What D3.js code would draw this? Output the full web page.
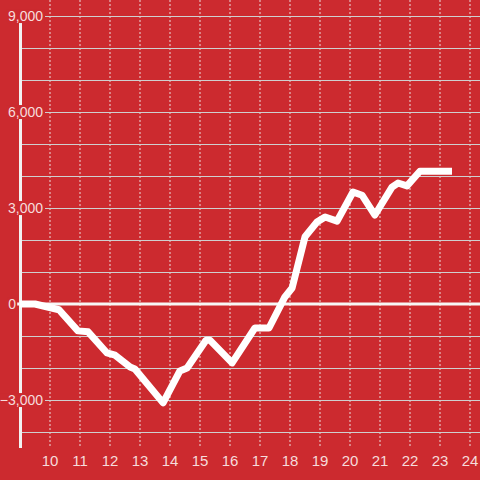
<!DOCTYPE html>
<html><head><meta charset="utf-8">
<script src="https://cdn.jsdelivr.net/npm/d3@7"></script>
<style>body{margin:0;background:#cc2a2f;}svg{display:block;}</style>
</head><body>
<svg id="c" width="480" height="480"></svg>
<script>
const hours = [9.0, 9.5, 10.3, 10.93, 11.27, 11.9, 12.17, 12.67, 12.83, 13.77, 14.33, 14.57, 15.2, 15.33, 16.07, 16.83, 17.3, 17.83, 18.07, 18.5, 18.9, 19.17, 19.57, 20.1, 20.4, 20.83, 21.4, 21.6, 21.9, 22.33, 23.4];
const values = [0, 0, -180, -840, -870, -1530, -1600, -1970, -2030, -3090, -2090, -2000, -1130, -1130, -1840, -750, -750, 220, 500, 2100, 2560, 2720, 2590, 3500, 3400, 2780, 3650, 3780, 3690, 4150, 4150];
const xTicks = [10,11,12,13,14,15,16,17,18,19,20,21,22,23,24];
const yGrid = [9000,8000,7000,6000,5000,4000,3000,2000,1000,0,-1000,-2000,-3000,-4000];
const yLabels = [9000,6000,3000,0,-3000];

const bg = "#cc2a2f";
const W = 480, H = 480;
const svg = d3.select("#c");
svg.append("rect").attr("width",W).attr("height",H).attr("fill",bg);

const x = d3.scaleLinear().domain([9, 24.3333]).range([20, 480]);
const y = d3.scaleLinear().domain([9500, -4500]).range([0, 448]);
const fmt = d3.format(",");

// vertical dotted gridlines
svg.append("g").selectAll("line").data(xTicks).join("line")
  .attr("x1", d=>x(d)).attr("x2", d=>x(d)).attr("y1",0).attr("y2",448)
  .attr("stroke","#ecdcdc").attr("stroke-width",1).attr("stroke-dasharray","2,2");

// horizontal gridlines
svg.append("g").selectAll("line").data(yGrid.filter(d=>d!==0)).join("line")
  .attr("x1", d=> yLabels.includes(d) ? 45 : 21).attr("x2", W)
  .attr("y1", d=>y(d)+0.5).attr("y2", d=>y(d)+0.5)
  .attr("stroke","#cfcfcf").attr("stroke-width",1);

// y axis line
svg.append("line").attr("x1",20.5).attr("x2",20.5).attr("y1",y(9000)).attr("y2",448)
  .attr("stroke","#f2f2f2").attr("stroke-width",3);

// zero line
svg.append("line").attr("x1",17).attr("x2",W).attr("y1",y(0)).attr("y2",y(0))
  .attr("stroke","#f7f7f7").attr("stroke-width",3);

// y labels with background
const yl = svg.append("g").selectAll("g").data(yLabels).join("g");
yl.append("rect");
yl.append("text")
  .attr("x", d=> d===0 ? 16 : 43)
  .attr("y", d=>y(d))
  .attr("dy","0.36em")
  .attr("text-anchor","end")
  .attr("font-family","'Liberation Sans', Arial, sans-serif")
  .attr("font-size",14)
  .attr("fill","#f6dcdc")
  .text(d=>fmt(d));
yl.each(function(){
  const t = d3.select(this).select("text").node().getBBox();
  d3.select(this).select("rect").attr("x",t.x-1).attr("y",t.y+1).attr("width",t.width+2).attr("height",t.height-2).attr("fill",bg);
});

// x labels
svg.append("g").selectAll("text").data(xTicks).join("text")
  .attr("x", d=>x(d)).attr("y",466)
  .attr("text-anchor","middle")
  .attr("font-family","'Liberation Sans', Arial, sans-serif")
  .attr("font-size",15)
  .attr("fill","#f6dcdc")
  .text(d=>d);

// data line
const line = d3.line().x((d,i)=>x(hours[i])).y(d=>y(d));
svg.append("path").datum(values).attr("d",line)
  .attr("fill","none").attr("stroke","#ffffff").attr("stroke-width",7)
  .attr("stroke-linejoin","round").attr("stroke-linecap","butt");
</script>
</body></html>
